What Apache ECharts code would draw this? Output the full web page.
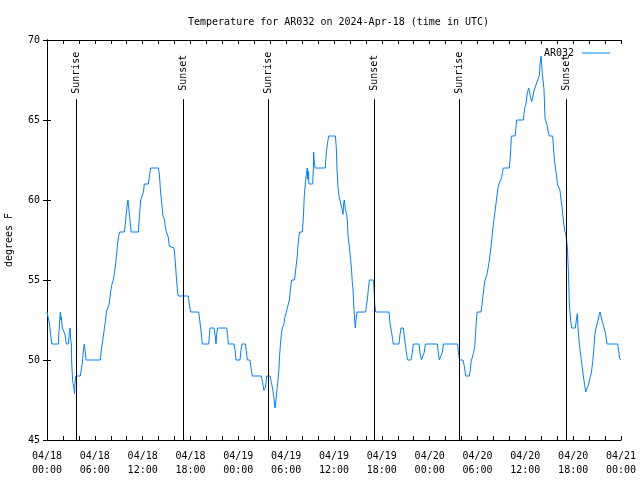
<!DOCTYPE html>
<html>
<head>
<meta charset="utf-8">
<script src="https://cdn.jsdelivr.net/npm/echarts@6/dist/echarts.min.js"></script>
<style>html,body{margin:0;padding:0;background:#fff;}#c{width:640px;height:480px;}</style>
</head>
<body>
<div id="c"></div>
<script>
// hours since 2024-04-18 00:00 UTC
var hours = [0,0.17,0.3,0.45,0.6,1.42,1.5,1.67,1.75,1.8,1.92,2.15,2.26,2.42,2.68,2.8,2.9,2.97,3.05,3.1,3.22,3.38,3.45,3.51,3.6,4.18,4.3,4.43,4.55,4.68,4.78,4.9,6.69,6.83,6.98,7.15,7.32,7.45,7.69,7.8,7.92,8.03,8.18,8.32,8.45,8.61,8.75,8.86,8.98,9.1,9.7,9.8,9.91,10.05,10.15,10.25,10.4,10.55,11.46,11.6,11.75,11.96,12.1,12.21,12.71,12.85,13.0,13.97,14.1,14.2,14.35,14.45,14.55,14.72,14.85,14.97,15.2,15.35,15.47,15.93,16.05,16.18,16.3,16.39,16.47,17.73,17.85,17.95,18.02,19.03,19.15,19.28,19.4,19.48,20.28,20.36,20.45,20.95,21.08,21.2,21.28,21.41,22.54,22.65,22.75,23.46,23.6,23.71,24.21,24.33,24.46,24.88,25.0,25.13,25.46,25.6,25.76,26.88,27.05,27.2,27.3,27.42,27.55,27.97,28.15,28.27,28.45,28.6,28.72,28.81,28.95,29.1,29.18,29.27,29.4,29.52,29.7,29.85,30.02,30.27,30.4,30.55,30.69,31.02,31.12,31.23,31.4,31.49,31.6,31.69,32.03,32.15,32.28,32.4,32.53,32.65,32.7,32.78,32.86,33.33,33.41,33.45,33.5,33.62,34.91,35.04,35.2,35.33,36.17,36.29,36.38,36.5,36.63,36.75,36.96,37.04,37.13,37.21,37.3,37.42,37.55,37.67,37.76,37.9,37.97,38.1,38.22,38.3,38.38,38.47,38.59,38.67,38.76,38.89,39.97,40.07,40.18,40.3,40.43,40.93,41.02,41.1,41.23,42.9,43.03,43.23,43.44,44.15,44.28,44.4,44.7,44.82,44.99,45.15,45.24,45.66,45.8,45.95,46.66,46.8,46.96,47.2,47.33,47.46,48.96,49.1,49.21,49.46,49.6,49.72,51.51,51.65,51.76,52.18,52.35,52.52,52.98,53.1,53.2,53.31,53.48,53.65,53.81,53.94,54.44,54.55,54.65,54.78,54.9,55.07,55.2,55.35,55.49,55.7,55.83,55.95,56.07,56.2,56.33,56.45,56.58,56.7,56.91,57.03,57.15,57.24,57.99,58.08,58.16,58.25,58.71,58.8,58.91,59.75,59.83,59.95,60.08,60.25,60.42,60.55,60.67,60.8,60.92,61.05,61.21,61.42,61.55,61.76,61.85,61.97,62.05,62.13,62.22,62.34,62.47,62.6,62.72,62.85,63.01,63.43,63.52,63.65,63.77,63.9,64.02,64.18,64.35,64.48,64.6,64.69,64.82,64.94,65.06,65.19,65.27,65.36,65.44,65.52,65.68,65.81,66.27,66.4,66.52,66.6,66.69,66.82,66.95,67.07,67.2,67.33,67.45,67.57,67.82,67.95,68.11,68.28,68.45,68.58,68.7,68.87,69.08,69.25,69.37,69.5,69.66,69.87,70.05,70.15,70.25,71.58,71.7,71.83,72];
var temps = [53,53,52.3,51.6,51,51,51.8,53,52.5,52.7,52,52,51.6,51,51,51.7,52,51.3,51,49.8,48.7,48.2,47.9,48.5,49,49,49.4,49.8,50.5,51,50.6,50,50,50.7,51.2,51.8,52.4,53,53,53.5,54,54.4,54.8,55,55.4,56,56.7,57.3,57.7,58,58,58.4,59,59.6,60,59.5,58.8,58,58,59,60,60,60.5,61,61,61.5,62,62,61.6,60.8,60,59.5,59,58.8,58.3,58,57.7,57.1,57,57,56.4,55.5,54.7,54.2,54,54,53.5,53.2,53,53,52.5,52,51.4,51,51,51.5,52,52,51.6,51,51.6,52,52,51.6,51,51,50.6,50,50,50.6,51,51,50.6,50,50,49.5,49,49,48.6,48.1,48,48.3,49,49,48.6,48.3,47.7,47,47.5,48,48.6,49.5,50.3,50.9,51.6,52,52.2,52.7,53,53.1,53.75,54.5,55,55,55.3,55.8,56.5,57.2,57.7,58,58,58.85,60.3,61,61.6,62,61.3,61.8,61,61,62,63,62.6,62,62,63,63.6,64,64,63.3,61.9,60.8,60.25,60,59.9,59.4,59.1,59.8,60,59.4,59.2,58.75,57.8,57.2,56.8,56.2,55.5,54.8,54.5,53.5,52.5,52,52.5,53,53,53.4,53.75,54.4,55,55,54.5,53.5,53,53,52.3,51.7,51,51,51.6,52,52,51.5,50.8,50.2,50,50,50.4,51,51,50.4,50,50,50.5,51,51,50.4,50,50,50.5,51,51,50.3,50,50,49.6,49,49,49.4,49.9,50,50.4,50.8,52.1,53,53,53.4,53.85,54.4,54.9,55,55.4,55.8,56.25,57.1,57.7,58.3,58.8,59.3,59.8,60.3,60.8,61,61,61.4,61.8,62,62,62.5,63.1,64,64,64.4,65,65,65.4,65.8,66,66.7,67,66.9,66.4,66.15,66.4,66.75,67,67.05,67.5,67.8,68.5,69,68.5,67.9,67.5,66.9,65.1,65,64.7,64.3,64,64,63.3,62.5,62,61.6,61,61,60.6,60,59.6,59.1,58.5,58.1,57.9,57.9,57.1,56,55,53.5,52.5,52,52,52.5,52.9,52.1,51.5,50.8,50.3,49.8,49.3,48.8,48.4,48,48,48.5,48.9,49.2,49.9,50.6,51.5,52,52.4,52.8,53,52.7,52.4,52,51.7,51.3,51,51,50.6,50.1,50];
var eventNames = ['Sunrise','Sunset','Sunrise','Sunset','Sunrise','Sunset'];
var eventHours = [3.66,17.10,27.78,41.06,51.74,65.19];
var yTicks = [45,50,55,60,65,70];

var FONT = 'DejaVu Sans Mono';
var data = hours.map(function(h,i){return [h,temps[i]];});
var mlData = [];
eventHours.forEach(function(h,i){
  mlData.push([{coord:[h,45],name:''},{coord:[h,66.3]}]);
  mlData.push([{coord:[h,66.45],name:eventNames[i],lineStyle:{color:'rgba(0,0,0,0)',width:0}},{coord:[h,69.45]}]);
});
function pad(n){return (n<10?'0':'')+n;}
var chart = echarts.init(document.getElementById('c'),null,{renderer:'canvas'});
var axisCommon = {
  axisLine:{show:true,lineStyle:{color:'#000',width:1}},
  axisTick:{show:true,inside:true,length:4,lineStyle:{color:'#000'}},
  splitLine:{show:false}
};
chart.setOption({
  animation:false,
  backgroundColor:'#fff',
  title:{text:'Temperature for AR032 on 2024-Apr-18 (time in UTC)',left:183,top:12,
    textStyle:{fontFamily:FONT,fontSize:10,fontWeight:'normal',color:'#000'}},
  legend:{right:25,top:43,itemWidth:28,itemHeight:8,itemGap:0,align:'right',
    textStyle:{fontFamily:FONT,fontSize:10,color:'#000',padding:[0,3,0,0]},
    data:[{name:'AR032',icon:'path://M0,0L28,0L28,1L0,1Z'}]},
  grid:{left:47,right:19,top:40,bottom:40,containLabel:false,outerBoundsMode:'none'},
  xAxis:[
    Object.assign({type:'value',min:0,max:72,interval:6,position:'bottom',
      minorTick:{show:true,splitNumber:3,length:4,lineStyle:{color:'#000'}},
      axisLabel:{margin:9,fontFamily:FONT,fontSize:10,color:'#000',lineHeight:14,
        formatter:function(v){var d=18+Math.floor(v/24);var hr=v%24;return '04/'+pad(d)+'\n'+pad(hr)+':00';}}},axisCommon),
    Object.assign({type:'value',min:0,max:72,interval:6,position:'top',
      minorTick:{show:true,splitNumber:3,length:4,lineStyle:{color:'#000'}},
      axisLabel:{show:false}},axisCommon)
  ],
  yAxis:[
    Object.assign({type:'value',min:45,max:70,interval:5,position:'left',
      name:'degrees F',nameLocation:'middle',nameGap:33,nameRotate:90,
      nameTextStyle:{fontFamily:FONT,fontSize:10,color:'#000'},
      axisLabel:{margin:7,fontFamily:FONT,fontSize:10,color:'#000'}},axisCommon),
    Object.assign({type:'value',min:45,max:70,interval:5,position:'right',axisLabel:{show:false}},axisCommon)
  ],
  series:[{
    name:'AR032',type:'line',data:data,symbol:'none',showSymbol:false,
    lineStyle:{color:'#0080ff',width:1},itemStyle:{color:'#0080ff'},
    markLine:{silent:true,symbol:'none',animation:false,
      lineStyle:{color:'#000',width:1,type:'solid'},
      label:{show:true,formatter:'{b}',position:'insideMiddle',color:'#000',fontFamily:FONT,fontSize:10,distance:0},
      data:mlData}
  }]
});
</script>
</body>
</html>
